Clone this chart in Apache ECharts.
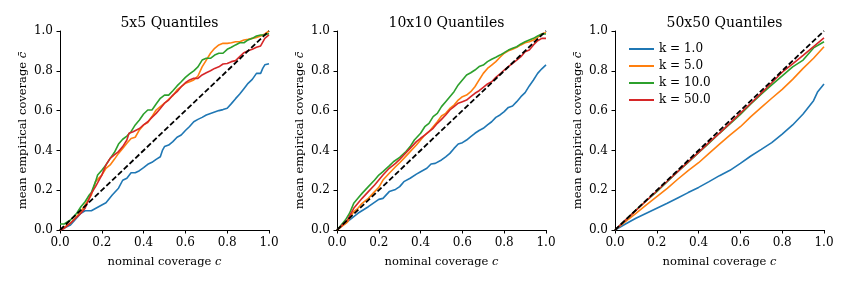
<!DOCTYPE html>
<html><head><meta charset="utf-8">
<script src="https://cdn.jsdelivr.net/npm/echarts@6/dist/echarts.min.js"></script>
<style>html,body{margin:0;padding:0;background:#fff}#c{width:847px;height:283px}</style>
</head><body><div id="c"></div>
<script>
const titles = ['5x5 Quantiles', '10x10 Quantiles', '50x50 Quantiles'];
const seriesNames = ['k = 1.0', 'k = 5.0', 'k = 10.0', 'k = 50.0'];
const ticks = [0, 0.2, 0.4, 0.6, 0.8, 1.0];
const diagonal = [[0, 0], [1, 1]];

// Panel 1: 5x5 quantiles
const p1_k1 = [[0,0],[0.05,0.025],[0.1,0.084],[0.12,0.097],[0.15,0.097],[0.2,0.126],[0.22,0.137],[0.25,0.176],[0.28,0.21],[0.3,0.25],[0.32,0.26],[0.34,0.288],[0.36,0.288],[0.38,0.298],[0.4,0.313],[0.42,0.33],[0.44,0.34],[0.46,0.355],[0.48,0.368],[0.49,0.40],[0.5,0.419],[0.52,0.427],[0.54,0.444],[0.56,0.466],[0.58,0.477],[0.6,0.50],[0.62,0.52],[0.64,0.544],[0.66,0.556],[0.68,0.566],[0.7,0.578],[0.72,0.586],[0.74,0.593],[0.76,0.6],[0.78,0.605],[0.8,0.612],[0.82,0.635],[0.84,0.66],[0.86,0.683],[0.88,0.71],[0.9,0.737],[0.92,0.757],[0.94,0.787],[0.96,0.787],[0.97,0.812],[0.98,0.83],[1.0,0.835]];
const p1_k5 = [[0,0],[0.05,0.034],[0.1,0.092],[0.15,0.176],[0.17,0.243],[0.2,0.276],[0.22,0.31],[0.24,0.327],[0.26,0.355],[0.28,0.385],[0.3,0.41],[0.32,0.436],[0.34,0.46],[0.36,0.466],[0.38,0.503],[0.4,0.528],[0.42,0.54],[0.44,0.57],[0.46,0.603],[0.48,0.62],[0.5,0.637],[0.52,0.657],[0.54,0.675],[0.56,0.704],[0.58,0.72],[0.6,0.737],[0.62,0.745],[0.64,0.754],[0.66,0.774],[0.68,0.82],[0.7,0.854],[0.72,0.888],[0.74,0.913],[0.76,0.93],[0.78,0.938],[0.8,0.938],[0.82,0.941],[0.84,0.946],[0.86,0.946],[0.88,0.955],[0.9,0.958],[0.92,0.963],[0.94,0.968],[0.96,0.975],[0.98,0.985],[1.0,1.0]];
const p1_k10 = [[0,0.03],[0.02,0.03],[0.05,0.05],[0.08,0.084],[0.1,0.117],[0.12,0.142],[0.14,0.176],[0.15,0.188],[0.17,0.243],[0.18,0.276],[0.2,0.30],[0.22,0.327],[0.24,0.36],[0.26,0.389],[0.28,0.432],[0.3,0.456],[0.32,0.472],[0.34,0.494],[0.36,0.528],[0.38,0.553],[0.4,0.583],[0.42,0.603],[0.44,0.603],[0.46,0.633],[0.48,0.662],[0.5,0.678],[0.52,0.678],[0.54,0.70],[0.56,0.724],[0.58,0.745],[0.6,0.767],[0.62,0.784],[0.64,0.80],[0.66,0.82],[0.68,0.854],[0.7,0.863],[0.72,0.863],[0.74,0.879],[0.76,0.888],[0.78,0.888],[0.8,0.908],[0.82,0.918],[0.84,0.93],[0.86,0.941],[0.88,0.941],[0.9,0.955],[0.92,0.963],[0.94,0.975],[0.96,0.98],[0.98,0.98],[1.0,0.988]];
const p1_k50 = [[0,0],[0.02,0.008],[0.05,0.034],[0.1,0.084],[0.12,0.109],[0.15,0.184],[0.17,0.218],[0.2,0.276],[0.22,0.327],[0.24,0.36],[0.26,0.377],[0.28,0.394],[0.3,0.419],[0.32,0.452],[0.33,0.486],[0.35,0.494],[0.38,0.51],[0.4,0.528],[0.42,0.544],[0.44,0.566],[0.46,0.586],[0.48,0.611],[0.5,0.637],[0.52,0.653],[0.54,0.678],[0.56,0.695],[0.58,0.72],[0.6,0.74],[0.62,0.754],[0.64,0.762],[0.66,0.762],[0.68,0.779],[0.7,0.79],[0.72,0.80],[0.74,0.812],[0.76,0.82],[0.78,0.834],[0.8,0.837],[0.82,0.846],[0.84,0.851],[0.86,0.871],[0.88,0.891],[0.9,0.901],[0.92,0.908],[0.94,0.918],[0.96,0.925],[0.98,0.963],[1.0,0.98]];

// Panel 2: 10x10 quantiles
const p2_k1 = [[0,0],[0.05,0.042],[0.1,0.084],[0.15,0.117],[0.2,0.154],[0.22,0.159],[0.25,0.193],[0.28,0.204],[0.3,0.218],[0.32,0.243],[0.35,0.26],[0.38,0.281],[0.4,0.293],[0.43,0.31],[0.45,0.332],[0.47,0.335],[0.5,0.352],[0.52,0.368],[0.54,0.385],[0.56,0.41],[0.58,0.432],[0.6,0.439],[0.62,0.452],[0.64,0.469],[0.66,0.486],[0.68,0.50],[0.7,0.511],[0.72,0.528],[0.74,0.544],[0.76,0.566],[0.78,0.578],[0.8,0.595],[0.82,0.616],[0.84,0.623],[0.86,0.645],[0.88,0.67],[0.9,0.69],[0.92,0.724],[0.94,0.754],[0.96,0.787],[0.98,0.81],[1.0,0.83]];
const p2_k5 = [[0,0],[0.05,0.04],[0.08,0.092],[0.1,0.109],[0.12,0.134],[0.15,0.159],[0.18,0.193],[0.2,0.214],[0.22,0.251],[0.25,0.285],[0.28,0.318],[0.3,0.338],[0.32,0.36],[0.35,0.394],[0.38,0.427],[0.4,0.452],[0.42,0.477],[0.44,0.494],[0.46,0.519],[0.48,0.544],[0.5,0.573],[0.52,0.586],[0.54,0.611],[0.56,0.628],[0.58,0.653],[0.6,0.67],[0.62,0.678],[0.64,0.695],[0.66,0.72],[0.68,0.754],[0.7,0.787],[0.72,0.812],[0.74,0.829],[0.76,0.846],[0.78,0.868],[0.8,0.888],[0.82,0.901],[0.84,0.908],[0.86,0.918],[0.88,0.93],[0.9,0.941],[0.92,0.946],[0.94,0.955],[0.96,0.968],[0.98,0.985],[1.0,0.992]];
const p2_k10 = [[0,0],[0.04,0.05],[0.06,0.084],[0.08,0.134],[0.1,0.159],[0.12,0.184],[0.15,0.218],[0.18,0.251],[0.2,0.276],[0.22,0.293],[0.25,0.322],[0.27,0.343],[0.3,0.365],[0.33,0.394],[0.35,0.419],[0.37,0.452],[0.4,0.486],[0.42,0.519],[0.44,0.536],[0.46,0.57],[0.48,0.586],[0.5,0.62],[0.52,0.645],[0.54,0.67],[0.56,0.695],[0.58,0.729],[0.6,0.754],[0.62,0.779],[0.64,0.79],[0.66,0.804],[0.68,0.821],[0.7,0.829],[0.72,0.846],[0.74,0.858],[0.76,0.868],[0.78,0.879],[0.8,0.891],[0.82,0.904],[0.84,0.913],[0.86,0.921],[0.88,0.935],[0.9,0.946],[0.92,0.955],[0.94,0.963],[0.96,0.975],[0.98,0.985],[1.0,0.985]];
const p2_k50 = [[0,0],[0.05,0.05],[0.08,0.109],[0.1,0.134],[0.12,0.159],[0.15,0.193],[0.18,0.226],[0.2,0.251],[0.22,0.276],[0.25,0.31],[0.28,0.335],[0.3,0.355],[0.32,0.377],[0.35,0.41],[0.38,0.444],[0.4,0.461],[0.42,0.477],[0.44,0.494],[0.46,0.511],[0.48,0.536],[0.5,0.556],[0.52,0.578],[0.54,0.603],[0.56,0.62],[0.58,0.637],[0.6,0.645],[0.62,0.653],[0.64,0.67],[0.66,0.687],[0.68,0.70],[0.7,0.717],[0.72,0.734],[0.74,0.745],[0.76,0.767],[0.78,0.784],[0.8,0.804],[0.82,0.821],[0.84,0.837],[0.86,0.854],[0.88,0.871],[0.9,0.896],[0.92,0.904],[0.94,0.93],[0.96,0.951],[0.98,0.963],[1.0,0.963]];

// Panel 3: 50x50 quantiles
const p3_k1 = [[0,0],[0.05,0.03],[0.1,0.059],[0.15,0.084],[0.2,0.109],[0.25,0.134],[0.3,0.161],[0.35,0.188],[0.4,0.214],[0.45,0.243],[0.5,0.273],[0.55,0.30],[0.6,0.335],[0.65,0.372],[0.7,0.405],[0.75,0.439],[0.8,0.482],[0.85,0.528],[0.9,0.583],[0.95,0.65],[0.97,0.695],[1.0,0.734]];
const p3_k5 = [[0,0],[0.05,0.042],[0.1,0.084],[0.15,0.126],[0.2,0.168],[0.25,0.209],[0.3,0.255],[0.35,0.298],[0.4,0.338],[0.45,0.385],[0.5,0.432],[0.55,0.477],[0.6,0.519],[0.65,0.57],[0.7,0.616],[0.75,0.662],[0.8,0.707],[0.85,0.757],[0.9,0.812],[0.95,0.863],[1.0,0.921]];
const p3_k10 = [[0,0],[0.05,0.05],[0.1,0.10],[0.15,0.147],[0.2,0.193],[0.25,0.243],[0.3,0.293],[0.35,0.34],[0.4,0.389],[0.45,0.436],[0.5,0.486],[0.55,0.533],[0.6,0.581],[0.65,0.633],[0.7,0.683],[0.75,0.729],[0.8,0.774],[0.85,0.82],[0.9,0.854],[0.95,0.915],[1.0,0.946]];
const p3_k50 = [[0,0],[0.05,0.05],[0.1,0.098],[0.15,0.147],[0.2,0.196],[0.25,0.245],[0.3,0.293],[0.35,0.342],[0.4,0.39],[0.45,0.44],[0.5,0.487],[0.55,0.537],[0.6,0.587],[0.65,0.637],[0.7,0.688],[0.75,0.74],[0.8,0.793],[0.85,0.835],[0.9,0.878],[0.95,0.922],[1.0,0.965]];

const panels = [
  [p1_k1, p1_k5, p1_k10, p1_k50],
  [p2_k1, p2_k5, p2_k10, p2_k50],
  [p3_k1, p3_k5, p3_k10, p3_k50]
];
const colors = ['#1f77b4', '#ff7f0e', '#2ca02c', '#d62728'];

const FONT = 'DejaVu Serif';
const gridLefts = [60, 337, 615];
const gridW = 209, gridTop = 31, gridH = 199;

const chart = echarts.init(document.getElementById('c'), null, {renderer: 'canvas'});
const grid = [], xAxis = [], yAxis = [], series = [], title = [];
gridLefts.forEach((l, i) => {
  grid.push({left: l, top: gridTop, width: gridW, height: gridH, containLabel: false});
  title.push({text: titles[i], left: l + gridW / 2, top: 11, textAlign: 'center',
    textStyle: {fontFamily: FONT, fontSize: 14, fontWeight: 'normal', color: '#000'}});
  const axisCommon = {
    type: 'value', gridIndex: i, min: 0, max: 1, interval: 0.2,
    splitLine: {show: false},
    axisLine: {show: true, onZero: false, lineStyle: {color: '#000', width: 1}},
    axisTick: {show: true, length: 3.5, lineStyle: {color: '#000', width: 1}},
    axisLabel: {fontFamily: FONT, fontSize: 12, color: '#000', margin: 7,
      formatter: v => ticks.some(t => Math.abs(t - v) < 1e-9) ? v.toFixed(1) : ''},
    nameLocation: 'middle',
    nameTextStyle: {fontFamily: FONT, fontSize: 11.5, color: '#000',
      rich: {i: {fontFamily: FONT, fontSize: 11.5, fontStyle: 'italic', color: '#000'}}}
  };
  xAxis.push(Object.assign({}, axisCommon, {name: 'nominal coverage {i|c}', nameGap: 26}));
  yAxis.push(Object.assign({}, axisCommon, {name: 'mean empirical coverage {i|c\u0304}', nameGap: 31}));
  panels[i].forEach((d, j) => {
    series.push({type: 'line', name: seriesNames[j], xAxisIndex: i, yAxisIndex: i, data: d,
      showSymbol: false, symbol: 'none', clip: false, animation: false,
      lineStyle: {color: colors[j], width: 1.6}, itemStyle: {color: colors[j]}});
  });
  series.push({type: 'line', name: 'diag', xAxisIndex: i, yAxisIndex: i, data: diagonal,
    showSymbol: false, symbol: 'none', clip: false, animation: false, z: 5,
    lineStyle: {color: '#000', width: 1.8, type: [5.5, 2.5]}});
});

chart.setOption({
  backgroundColor: '#fff',
  animation: false,
  title, grid, xAxis, yAxis, series,
  legend: {data: seriesNames, orient: 'vertical', left: 624, top: 38, itemWidth: 25, itemHeight: 2,
    icon: 'rect', itemGap: 5, textStyle: {fontFamily: FONT, fontSize: 12, color: '#000', padding: [0, 0, 0, 0]}}
});
</script></body></html>
